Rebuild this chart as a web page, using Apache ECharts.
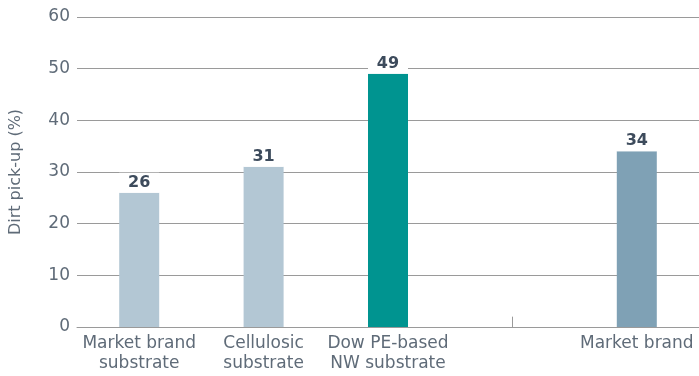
<!DOCTYPE html>
<html>
<head>
<meta charset="utf-8">
<script src="https://cdn.jsdelivr.net/npm/echarts@6/dist/echarts.min.js"></script>
<style>
  html, body { margin: 0; padding: 0; background: #fff; }
  #chart { width: 699px; height: 376px; }
</style>
</head>
<body>
<div id="chart"></div>
<script>
// data
const categories = ['Market brand\nsubstrate', 'Cellulosic\nsubstrate', 'Dow PE-based\nNW substrate', '', 'Market brand']
const values = [26, 31, 49, null, 34]
const barColors = ['#b3c7d4', '#b3c7d4', '#009490', '#b3c7d4', '#7fa1b5']
const yTicks = [0, 10, 20, 30, 40, 50, 60]

const textColor = '#5f6b78'
const labelColor = '#3d4b5c'
const font = 'DejaVu Sans, sans-serif'

const chart = echarts.init(document.getElementById('chart'))

const option = {
  animation: false,
  grid: {
    left: 75,
    right: -6,
    top: 17,
    bottom: 49,
    containLabel: false,
  },
  xAxis: {
    type: 'category',
    data: categories,
    axisLine: { lineStyle: { color: '#9a9a9a', width: 1 } },
    axisTick: { show: false },
    axisLabel: {
      color: textColor,
      fontFamily: font,
      fontSize: 17,
      lineHeight: 20,
      margin: 7,
      interval: 0,
    },
  },
  yAxis: {
    type: 'value',
    min: yTicks[0],
    max: yTicks[yTicks.length - 1],
    interval: 10,
    name: 'Dirt pick-up (%)',
    nameLocation: 'middle',
    nameGap: 53,
    nameTextStyle: {
      color: textColor,
      fontFamily: font,
      fontSize: 16,
    },
    axisLine: { show: false },
    axisTick: { show: false },
    axisLabel: {
      color: textColor,
      fontFamily: font,
      fontSize: 17,
      margin: 7,
    },
    splitLine: { lineStyle: { color: '#9a9a9a', width: 1 } },
  },
  series: [
    {
      type: 'bar',
      barWidth: 40,
      data: values.map((v, i) => ({ value: v, itemStyle: { color: barColors[i] } })),
      label: {
        show: true,
        position: 'top',
        distance: 0,
        color: labelColor,
        fontFamily: font,
        fontWeight: 'bold',
        fontSize: 16,
        backgroundColor: '#fff',
        width: 40,
        align: 'center',
        padding: [2, 0, 2, 0],
      },
      markLine: {
        silent: true,
        symbol: 'none',
        label: { show: false },
        lineStyle: { color: '#9a9a9a', width: 1, type: 'solid' },
        data: [[{ coord: [3, 0] }, { coord: [3, 2] }]],
      },
    },
  ],
}

chart.setOption(option)
</script>
</body>
</html>
